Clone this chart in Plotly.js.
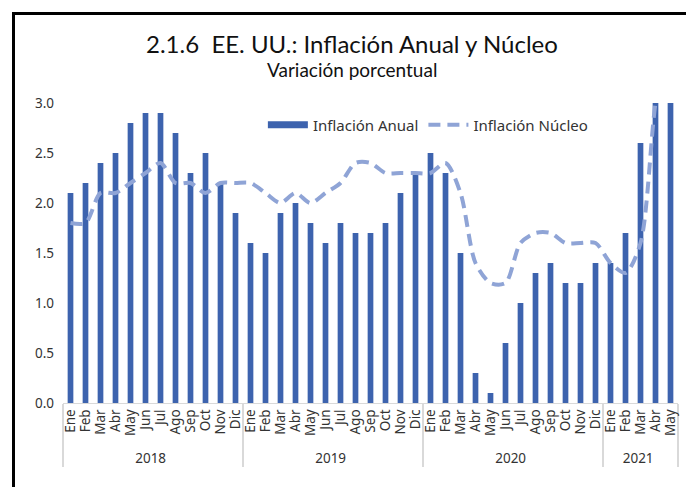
<!DOCTYPE html>
<html>
<head>
<meta charset="utf-8">
<script src="https://cdn.plot.ly/plotly-3.0.1.min.js"></script>
<style>
html,body{margin:0;padding:0;background:#fff;overflow:hidden;}
#frame{position:absolute;left:12px;top:12px;width:800px;height:600px;border:3px solid #000;box-sizing:border-box;}
#chart{position:absolute;left:0;top:0;width:686px;height:487px;}
</style>
</head>
<body>
<div id="frame"></div>
<div id="chart"></div>
<script>
var years = ["2018","2018","2018","2018","2018","2018","2018","2018","2018","2018","2018","2018",
             "2019","2019","2019","2019","2019","2019","2019","2019","2019","2019","2019","2019",
             "2020","2020","2020","2020","2020","2020","2020","2020","2020","2020","2020","2020",
             "2021","2021","2021","2021","2021"];
var months = ["Ene","Feb","Mar","Abr","May","Jun","Jul","Ago","Sep","Oct","Nov","Dic",
              "Ene","Feb","Mar","Abr","May","Jun","Jul","Ago","Sep","Oct","Nov","Dic",
              "Ene","Feb","Mar","Abr","May","Jun","Jul","Ago","Sep","Oct","Nov","Dic",
              "Ene","Feb","Mar","Abr","May"];
var inflacionAnual = [2.1,2.2,2.4,2.5,2.8,2.9,2.9,2.7,2.3,2.5,2.2,1.9,
                      1.6,1.5,1.9,2.0,1.8,1.6,1.8,1.7,1.7,1.8,2.1,2.3,
                      2.5,2.3,1.5,0.3,0.1,0.6,1.0,1.3,1.4,1.2,1.2,1.4,
                      1.4,1.7,2.6,4.2,5.0];
var inflacionNucleo = [1.8,1.8,2.1,2.1,2.2,2.3,2.4,2.2,2.2,2.1,2.2,2.2,
                       2.2,2.1,2.0,2.1,2.0,2.1,2.2,2.4,2.4,2.3,2.3,2.3,
                       2.3,2.4,2.1,1.4,1.2,1.2,1.6,1.7,1.7,1.6,1.6,1.6,
                       1.4,1.3,1.6,3.0,3.8];
var yTicks = [0,0.5,1.0,1.5,2.0,2.5,3.0];
var titleText = "2.1.6&nbsp;&nbsp;EE. UU.: Inflación Anual y Núcleo";
var subtitleText = "Variación porcentual";

var barColor = "#3d63ae";
var lineColor = "#8fa4d6";
var fnt = "Noto Sans, Liberation Sans, sans-serif";
var tfnt = "Lato, Open Sans, sans-serif";

var traces = [
  {type:"bar", x:[years, months], y:inflacionAnual, name:"Inflación Anual",
   marker:{color:barColor}, showlegend:false, hoverinfo:"skip"},
  {type:"scatter", mode:"lines", x:[[years[0]],[months[0]]], y:[null], name:"Inflación Anual",
   line:{color:barColor, width:7}, showlegend:true, hoverinfo:"skip"},
  {type:"scatter", mode:"lines", x:[years, months], y:inflacionNucleo, name:"Inflación Núcleo",
   line:{color:lineColor, width:4, dash:"12px,7px", shape:"spline", smoothing:0.8}, hoverinfo:"skip"}
];

var layout = {
  width:686, height:487,
  paper_bgcolor:"rgba(0,0,0,0)", plot_bgcolor:"rgba(0,0,0,0)",
  margin:{l:63, r:8, t:103, b:84},
  font:{family:fnt, color:"#333", size:12},
  annotations:[
    {text:titleText, xref:"paper", yref:"paper", x:(352-63)/615, y:(403-43)/300,
     xanchor:"center", yanchor:"middle", showarrow:false,
     font:{family:tfnt, size:24, color:"#111"}},
    {text:subtitleText, xref:"paper", yref:"paper", x:(352-63)/615, y:(403-70)/300,
     xanchor:"center", yanchor:"middle", showarrow:false,
     font:{family:tfnt, size:19, color:"#111"}}
  ],
  bargap:0.62,
  showlegend:true,
  legend:{orientation:"h", x:0.325, xanchor:"left", y:(403-125)/300, yanchor:"middle",
          bgcolor:"rgba(0,0,0,0)", font:{family:fnt, size:15, color:"#333"},
          itemwidth:40, traceorder:"normal"},
  xaxis:{type:"multicategory", tickangle:-90, tickfont:{size:13.5, color:"#333"},
         tickmode:"linear", tick0:0, dtick:1,
         showline:true, linecolor:"#d9d9d9", linewidth:1,
         showdividers:true, dividercolor:"#d9d9d9", dividerwidth:1.5,
         ticks:"", showgrid:false, fixedrange:true},
  yaxis:{range:[0,3.0], tickvals:yTicks, tickformat:".1f", showgrid:false, zeroline:false,
         showline:false, ticks:"", tickfont:{size:13.5, color:"#333"}, ticklabelstandoff:8, fixedrange:true}
};

Plotly.newPlot("chart", traces, layout, {staticPlot:true});
</script>
</body>
</html>
